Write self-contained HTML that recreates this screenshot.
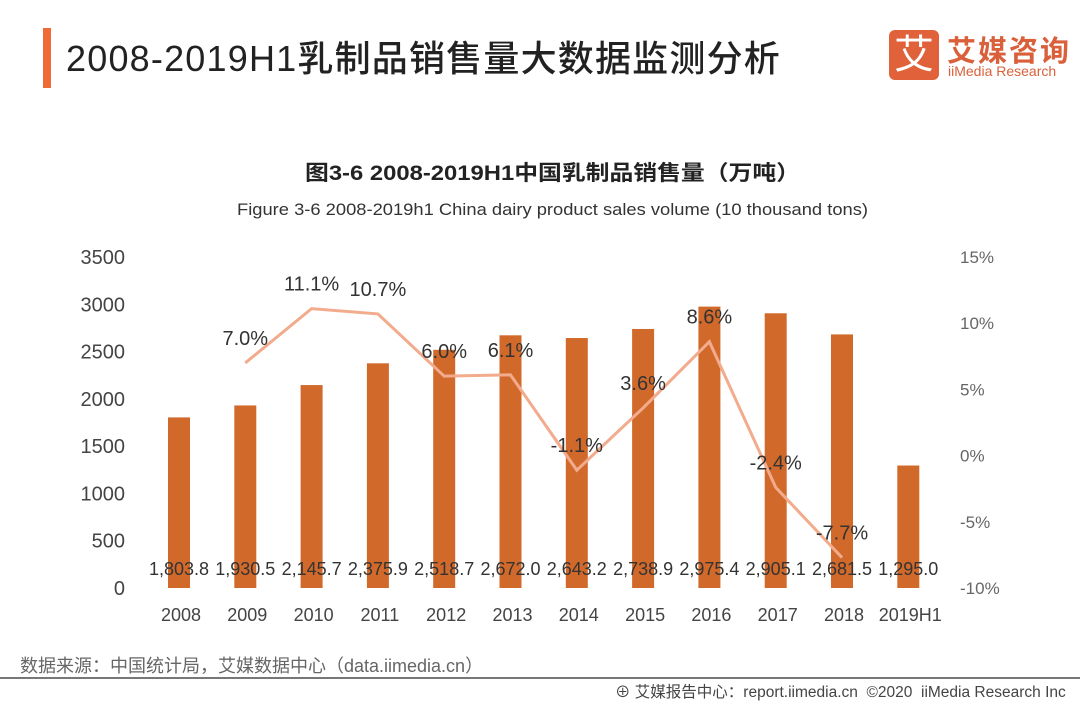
<!DOCTYPE html>
<html><head><meta charset="utf-8"><style>
body{margin:0;width:1080px;height:702px;background:#fff;overflow:hidden;font-family:"Liberation Sans","Noto Sans CJK SC",sans-serif;position:relative}
.abs{position:absolute}
</style></head><body>
<div class="abs" style="left:43px;top:28px;width:8px;height:60px;background:#f06a35"></div>
<div class="abs" style="left:66px;top:30px;font-size:36px;color:#222;font-weight:500;letter-spacing:1.2px">2008-2019H1乳制品销售量大数据监测分析</div>
<div class="abs" style="left:889px;top:30px;width:50px;height:50px;background:#e0613a;border-radius:6px;color:#fff;font-size:40px;text-align:center;line-height:50px">艾</div>
<div class="abs" style="left:947px;top:28px;font-size:29px;color:#d9603a;font-weight:bold;letter-spacing:2px">艾媒咨询</div>
<div class="abs" style="left:948px;top:63px;font-size:14px;color:#d9603a">iiMedia Research</div>
<svg class="abs" style="left:0;top:0" width="1080" height="702" id="chart">
<text x="305" y="180" textLength="495" lengthAdjust="spacingAndGlyphs" font-size="21" font-weight="bold" fill="#222">图3-6 2008-2019H1中国乳制品销售量（万吨）</text>
<text x="237" y="215" textLength="631" lengthAdjust="spacingAndGlyphs" font-size="17" fill="#333">Figure 3-6 2008-2019h1 China dairy product sales volume (10 thousand tons)</text>
</svg>
<div class="abs" style="left:20px;top:652px;font-size:18px;color:#666">数据来源：中国统计局，艾媒数据中心（data.iimedia.cn）</div>
<div class="abs" style="left:0;top:677px;width:1080px;height:2px;background:#777"></div>
<div class="abs" style="left:615px;top:680px;font-size:15.5px;color:#444">⊕ 艾媒报告中心：report.iimedia.cn &nbsp;©2020 &nbsp;iiMedia Research Inc</div>
<script>
const categories=["2008","2009","2010","2011","2012","2013","2014","2015","2016","2017","2018","2019H1"];
const sales=[1803.8,1930.5,2145.7,2375.9,2518.7,2672.0,2643.2,2738.9,2975.4,2905.1,2681.5,1295.0];
const salesLabels=["1,803.8","1,930.5","2,145.7","2,375.9","2,518.7","2,672.0","2,643.2","2,738.9","2,975.4","2,905.1","2,681.5","1,295.0"];
const growth=[null,7.0,11.1,10.7,6.0,6.1,-1.1,3.6,8.6,-2.4,-7.7,null];
const leftTicks=[0,500,1000,1500,2000,2500,3000,3500];
const rightTicks=[-10,-5,0,5,10,15];
const svg=document.getElementById('chart');const NS="http://www.w3.org/2000/svg";
const y0=588,yTop=257;
const yL=v=>y0-(v/3500)*(y0-yTop);
const yR=v=>y0-((v+10)/25)*(y0-yTop);
const xC=i=>179+i*66.3;
function mk(t,a,txt){const e=document.createElementNS(NS,t);for(const k in a)e.setAttribute(k,a[k]);if(txt!=null)e.textContent=txt;svg.appendChild(e);return e;}
leftTicks.forEach(v=>{const e=mk('text',{x:125,y:yL(v)+7,'text-anchor':'end','font-size':20,fill:'#444'},v);

});
rightTicks.forEach(v=>{const e=mk('text',{x:960,y:yR(v)+6,'font-size':17,fill:'#666'},v+'%');

});
categories.forEach((c,i)=>{
const b=mk('rect',{x:xC(i)-11,y:yL(sales[i]),width:22,height:y0-yL(sales[i]),fill:'#d1692b'});


const t=mk('text',{x:xC(i)+2,y:621,'text-anchor':'middle','font-size':18,fill:'#444'},c);


});
let pts=[];growth.forEach((g,i)=>{if(g!=null)pts.push(xC(i)+','+yR(g));});
const ln=mk('polyline',{points:pts.join(' '),fill:'none',stroke:'#f2ab8c','stroke-width':3});


categories.forEach((c,i)=>{
const t=mk('text',{x:xC(i),y:575,'text-anchor':'middle','font-size':18,fill:'#333'},salesLabels[i]);


if(growth[i]!=null){const g=mk('text',{x:xC(i),y:yR(growth[i])-18,'text-anchor':'middle','font-size':20,fill:'#333'},growth[i].toFixed(1)+'%');

}
});
</script>
</body></html>
